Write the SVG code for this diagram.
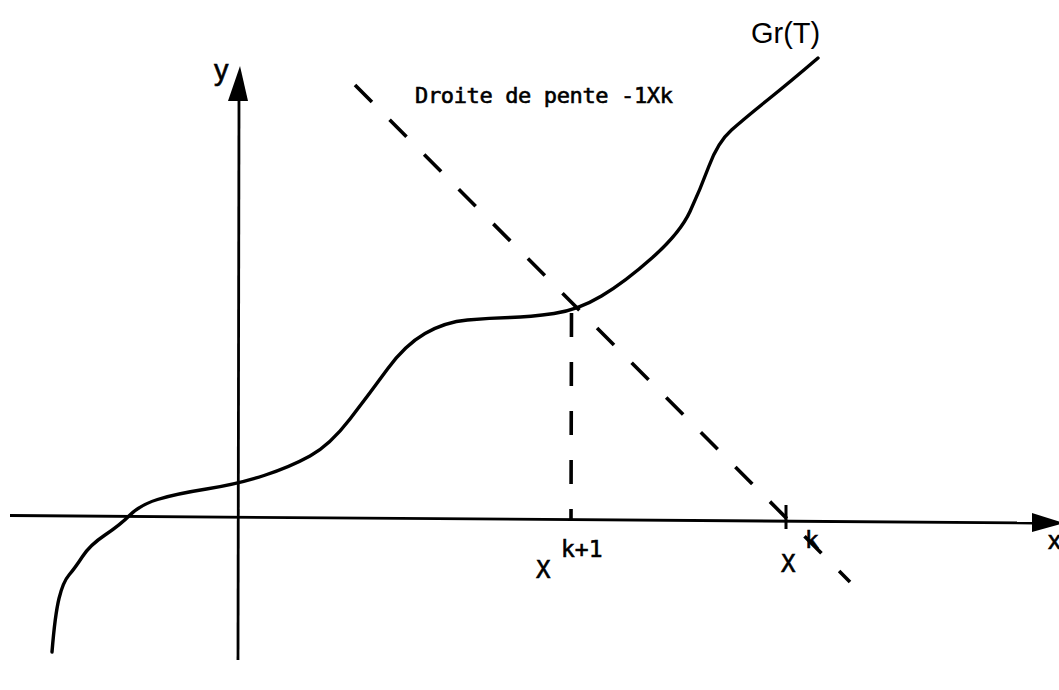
<svg xmlns="http://www.w3.org/2000/svg" width="1059" height="690" viewBox="0 0 1059 690">
<style>
.axis{stroke:#000;stroke-width:2.8;fill:none}
.curve{stroke:#000;stroke-width:3.4;fill:none;stroke-linecap:round;stroke-linejoin:round}
.dash{stroke:#000;stroke-width:3.6;fill:none;stroke-dasharray:24 25}
.mono{font-family:"DejaVu Sans Mono","Liberation Mono",monospace;fill:#000;stroke:#000;stroke-width:0.6}
.sans{font-family:"Liberation Sans",Arial,sans-serif;fill:#000}
</style>
<rect width="1059" height="690" fill="#fff"/>
<g id="axes">
<line class="axis" x1="10" y1="515.5" x2="1035" y2="523"/>
<polygon points="1032,513 1064,523 1032,532" fill="#000"/>
<line class="axis" x1="238" y1="660" x2="239" y2="98"/>
<polygon points="228,101 240,66 248,101" fill="#000"/>
<text class="sans" x="1048" y="549" font-size="26" stroke="#000" stroke-width="0.6">x</text>
<text class="sans" x="214" y="80" font-size="29" stroke="#000" stroke-width="0.6">y</text>
</g>
<g id="graph">
<path class="curve" d="M52,652 Q55,615 59,598.5 Q63,582 69,575 Q75,568 82.5,556.5 Q90,545 105,535 Q120,525 130,515 Q140,505 157.5,499.5 Q175,494 206.5,489 Q238,484 264,475.5 Q290,467 310,456 Q330,445 350,419 Q370,393 387.5,369 Q405,345 425,333.5 Q445,322 467.5,320 Q490,318 510,317.5 Q530,317 554,313.5 Q578,310 601.5,296 Q625,282 652.5,257.5 Q680,233 690,211.5 Q700,190 709,166 Q718,142 731.5,130 Q745,118 767.5,100 Q790,82 818,58"/>
<text class="sans" x="751" y="43" font-size="29">Gr(T)</text>
</g>
<g id="connectors">
<line class="dash" x1="355" y1="85" x2="850" y2="582"/>
<line class="dash" x1="571.5" y1="313" x2="571" y2="520"/>
<line class="axis" x1="786" y1="505" x2="786" y2="529" style="stroke-width:3"/>
</g>
<g id="labels">
<text class="mono" x="415" y="103" font-size="22" textLength="258">Droite de pente -1Xk</text>
<text class="mono" x="536" y="578" font-size="24">X</text>
<text class="mono" x="561" y="557" font-size="23">k+1</text>
<text class="mono" x="781" y="572" font-size="24">X</text>
<text class="mono" x="805" y="548" font-size="23">k</text>
</g>
</svg>
